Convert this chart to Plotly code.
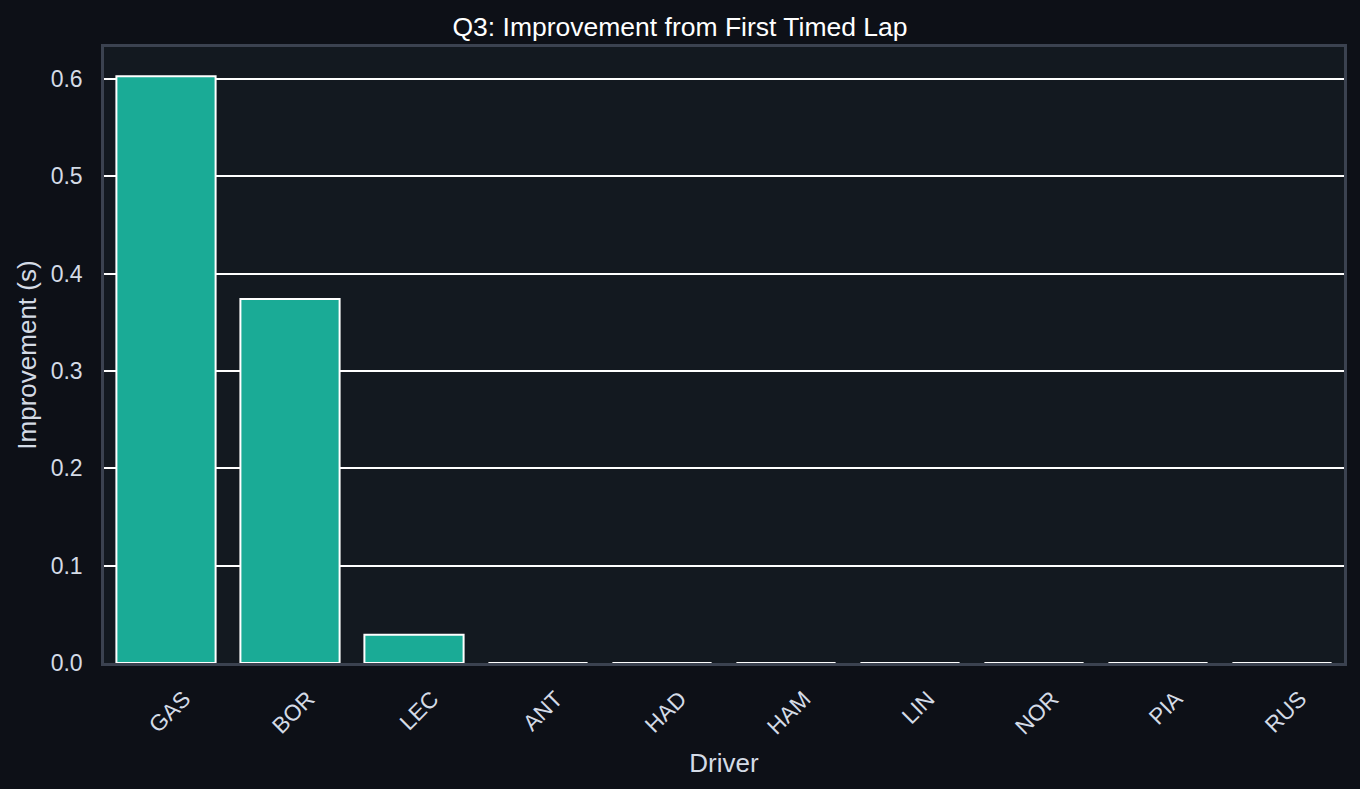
import plotly.graph_objects as go

# Q3 improvement of best lap over first timed lap (seconds)
drivers = ['GAS', 'BOR', 'LEC', 'ANT', 'HAD', 'HAM', 'LIN', 'NOR', 'PIA', 'RUS']
improvement = [0.603, 0.374, 0.029, 0.0, 0.0, 0.0, 0.0, 0.0, 0.0, 0.0]
y_ticks = [0.0, 0.1, 0.2, 0.3, 0.4, 0.5, 0.6]

text_col = '#d4dbe6'
frame_col = '#3b4250'

fig = go.Figure(go.Bar(
    x=drivers, y=improvement,
    marker=dict(color='#1aab96', line=dict(color='white', width=2)),
))

fig.update_layout(
    width=1360, height=789,
    paper_bgcolor='#0d1017', plot_bgcolor='#131920',
    font=dict(family='Liberation Sans, Arial, sans-serif', size=22, color=text_col),
    title=dict(text='Q3: Improvement from First Timed Lap', x=0.5, xanchor='center',
               y=0.966, yanchor='middle', font=dict(size=26.5, color='white')),
    margin=dict(l=104, r=16, t=47, b=126),
    bargap=0.2,
    showlegend=False,
)
fig.update_xaxes(
    title_text='Driver', title_standoff=16, tickangle=-45,
    showgrid=False, showline=True, linecolor=frame_col, linewidth=2.5, mirror=True,
    ticks='', tickfont_size=22.5, ticklabelshift=18, ticklabelstandoff=11,
)
fig.update_yaxes(
    title_text='Improvement (s)', title_standoff=7, range=[0, 0.633],
    tickvals=y_ticks, ticktext=[f'{v:.1f}' for v in y_ticks],
    showgrid=True, gridcolor='white', gridwidth=1.5, zeroline=False,
    showline=True, linecolor=frame_col, linewidth=2.5, mirror=True,
    ticks='', tickfont_size=23, ticklabelstandoff=14,
)

fig.write_html('out.html', config={'displayModeBar': False},
               post_script="document.body.style.margin='0';")
